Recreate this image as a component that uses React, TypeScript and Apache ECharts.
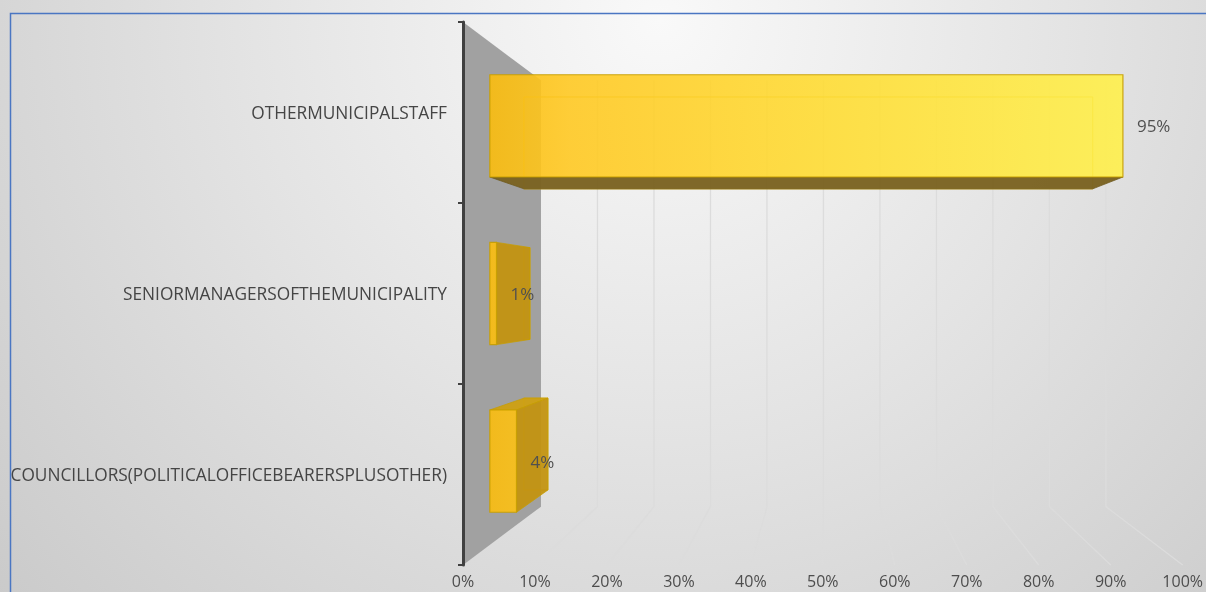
import React, { useEffect, useRef } from "react";
import * as echarts from "echarts";

const categories = [
  "COUNCILLORS(POLITICALOFFICEBEARERSPLUSOTHER)",
  "SENIORMANAGERSOFTHEMUNICIPALITY",
  "OTHERMUNICIPALSTAFF",
];
const percentages = [4, 1, 95];
const xTickValues = [0, 10, 20, 30, 40, 50, 60, 70, 80, 90, 100];

const FONT = "'Open Sans', 'Noto Sans', sans-serif";
const VP_FX = 0.504;
const VP_FY = 0.5;
const DEPTH_WALL = 0.785;
const DEPTH_BAR_FRONT = 0.926;
const DEPTH_BAR_BACK = 0.832;
const BAR_BAND_FRACTION = 0.61;

function projector(cs: any) {
  const vx = cs.x + VP_FX * cs.width;
  const vy = cs.y + VP_FY * cs.height;
  const p = (x: number, y: number, s: number) => [vx + s * (x - vx), vy + s * (y - vy)];
  return { vx, vy, p };
}

export default function App() {
  const ref = useRef<HTMLDivElement>(null);
  useEffect(() => {
    const chart = echarts.init(ref.current!, null, { renderer: "svg" });

    const wallSeries = {
      type: "custom",
      silent: true,
      z: 1,
      encode: { x: 0, y: 1 },
      data: [[0, 0]],
      renderItem: (params: any, api: any) => {
        const cs = params.coordSys;
        const { p } = projector(cs);
        const x = api.coord([0, 0])[0];
        const top = cs.y;
        const bottom = cs.y + cs.height;
        return {
          type: "polygon",
          shape: { points: [[x, top], p(x, top, DEPTH_WALL), p(x, bottom, DEPTH_WALL), [x, bottom]] },
          style: { fill: "#a1a1a1" },
        };
      },
    };

    const gridSeries = {
      type: "custom",
      silent: true,
      z: 1,
      encode: { x: 0, y: 1 },
      data: xTickValues.filter((t) => t > 0).map((t) => [t, 0]),
      renderItem: (params: any, api: any) => {
        const cs = params.coordSys;
        const { p } = projector(cs);
        const x = api.coord([api.value(0), 0])[0];
        const top = cs.y;
        const bottom = cs.y + cs.height;
        return {
          type: "polyline",
          shape: { points: [p(x, top, DEPTH_WALL), p(x, bottom, DEPTH_WALL), [x, bottom]] },
          style: { stroke: "#dcdcdc", lineWidth: 1.3, fill: "none" },
        };
      },
    };

    const barSeries = {
      type: "custom",
      silent: true,
      z: 3,
      encode: { x: 1, y: 0 },
      data: percentages.map((v, i) => [i, v]),
      renderItem: (params: any, api: any) => {
        const cs = params.coordSys;
        const { vx, vy, p } = projector(cs);
        const idx = api.value(0);
        const v = api.value(1);
        const c0 = api.coord([0, idx]);
        const c1 = api.coord([v, idx]);
        const bandH = api.size([0, 1])[1];
        const half = (bandH * BAR_BAND_FRACTION) / 2;
        const yT = c0[1] - half;
        const yB = c0[1] + half;
        const xL = c0[0];
        const xR = c1[0];
        const F = (x: number, y: number) => p(x, y, DEPTH_BAR_FRONT);
        const B = (x: number, y: number) => p(x, y, DEPTH_BAR_BACK);
        const fTL = F(xL, yT), fTR = F(xR, yT), fBR = F(xR, yB), fBL = F(xL, yB);
        const bTL = B(xL, yT), bTR = B(xR, yT), bBR = B(xR, yB), bBL = B(xL, yB);
        const gx0 = F(cs.x, 0)[0];
        const gx1 = F(cs.x + cs.width, 0)[0];
        const frontFill = new echarts.graphic.LinearGradient(
          gx0, 0, gx1, 0,
          [
            { offset: 0, color: "#fbbd0e" },
            { offset: 0.12, color: "#ffc923" },
            { offset: 0.5, color: "#ffdc34" },
            { offset: 0.95, color: "#fff04c" },
            { offset: 1, color: "#fff24e" },
          ],
          true
        );
        const edge = "#c79e00";
        const children: any[] = [];
        children.push({
          type: "polygon",
          shape: { points: [bTL, bTR, bBR, bBL] },
          style: { fill: "none", stroke: "#d2a800", lineWidth: 1 },
        });
        if (yB < vy) {
          children.push({
            type: "polygon",
            shape: { points: [fBL, fBR, bBR, bBL] },
            style: { fill: "#7b6322", stroke: "#6e5a1e", lineWidth: 0.8, opacity: 0.97 },
          });
        }
        if (yT > vy) {
          children.push({
            type: "polygon",
            shape: { points: [fTL, fTR, bTR, bTL] },
            style: { fill: "#cfa012", stroke: edge, lineWidth: 0.8, opacity: 0.95 },
          });
        }
        if (xR < vx) {
          children.push({
            type: "polygon",
            shape: { points: [fTR, bTR, bBR, fBR] },
            style: { fill: "#c39411", stroke: edge, lineWidth: 0.8, opacity: 0.95 },
          });
        }
        children.push({
          type: "polygon",
          shape: { points: [fTL, fTR, fBR, fBL] },
          style: { fill: frontFill, stroke: edge, lineWidth: 1.2, opacity: 0.9 },
        });
        children.push({
          type: "text",
          style: {
            text: v + "%",
            x: fTR[0] + 14,
            y: (fTR[1] + fBR[1]) / 2,
            fill: "#505050",
            fontSize: 17,
            fontFamily: FONT,
            align: "left",
            verticalAlign: "middle",
          },
        });
        return { type: "group", children };
      },
    };

    const option = {
      animation: false,
      graphic: [
        {
          type: "rect",
          z: -100,
          silent: true,
          shape: { x: 0, y: 0, width: 1206, height: 592 },
          style: {
            fill: new echarts.graphic.RadialGradient(
              660, 20, 900,
              [
                { offset: 0, color: "#f9f9f9" },
                { offset: 0.45, color: "#e4e4e4" },
                { offset: 1, color: "#c9c9c9" },
              ],
              true
            ),
          },
        },
        {
          type: "rect",
          z: 100,
          silent: true,
          shape: { x: 10.5, y: 13.5, width: 1400, height: 800 },
          style: { fill: "none", stroke: "#4a76c2", lineWidth: 1.5 },
        },
      ],
      grid: { left: 463, right: 23, top: 22, bottom: 27 },
      xAxis: {
        type: "value",
        min: 0,
        max: 100,
        interval: 10,
        axisLabel: {
          formatter: "{value}%",
          color: "#4d4d4d",
          fontSize: 16,
          fontFamily: FONT,
          margin: 8,
        },
        axisLine: { show: false },
        axisTick: { show: false },
        splitLine: { show: false },
      },
      yAxis: {
        type: "category",
        data: categories,
        z: 5,
        axisLine: { show: true, lineStyle: { color: "#404040", width: 3 } },
        axisTick: { show: true, length: 5, lineStyle: { color: "#404040", width: 2 } },
        axisLabel: { color: "#454545", fontSize: 17.3, fontFamily: FONT, margin: 16 },
        splitLine: { show: false },
      },
      series: [wallSeries, gridSeries, barSeries],
    };
    chart.setOption(option as any);
    return () => chart.dispose();
  }, []);
  return (
    <div
      ref={ref}
      style={{ position: "fixed", left: 0, top: 0, width: 1206, height: 592 }}
    />
  );
}
